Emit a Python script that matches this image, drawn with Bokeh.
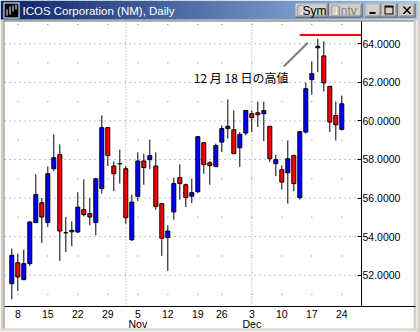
from bokeh.plotting import figure
from bokeh.models import (Range1d, FixedTicker, PrintfTickFormatter, LinearAxis)
from bokeh.core.properties import value
from bokeh.embed import file_html
from bokeh.resources import INLINE

W, H = 420, 332

# ---------------- data ----------------
opens = [51.56, 52.65, 51.77, 52.60, 54.73, 55.76, 54.73, 57.52, 58.25, 54.20,
         54.25, 54.24, 55.40, 55.19, 54.73, 56.49, 59.65, 57.66, 57.78, 57.52,
         53.84, 56.09, 57.92, 57.99, 57.66, 55.71, 53.95, 55.28, 57.06, 56.69,
         56.10, 56.33, 58.87, 57.83, 57.63, 58.90, 59.60, 59.54, 58.61, 59.37,
         60.37, 60.42, 60.37, 59.72, 57.78, 57.47, 57.31, 58.20, 56.02, 59.42,
         62.14, 63.79, 63.37, 61.79, 60.28, 59.56]
highs = [53.38, 53.12, 53.33, 54.80, 57.23, 56.00, 57.64, 59.30, 58.78, 55.02,
         54.79, 56.30, 56.97, 56.00, 57.05, 60.28, 59.65, 57.90, 58.51, 57.66,
         56.18, 58.37, 58.30, 59.03, 58.37, 55.71, 54.59, 57.06, 57.75, 56.75,
         57.00, 59.20, 58.87, 57.92, 58.82, 59.77, 61.11, 60.54, 59.42, 60.56,
         60.54, 61.00, 61.00, 59.72, 58.25, 57.69, 58.99, 58.26, 59.44, 61.98,
         63.08, 64.26, 64.12, 61.79, 61.01, 61.31]
lows = [50.75, 51.18, 51.77, 52.48, 54.70, 53.67, 54.50, 57.40, 52.74, 53.20,
        53.51, 54.20, 55.05, 54.59, 54.07, 56.23, 57.66, 56.36, 56.75, 54.67,
        53.77, 55.84, 56.69, 57.50, 55.40, 53.00, 52.22, 54.88, 55.92, 55.53,
        55.74, 56.26, 57.26, 56.69, 57.60, 58.38, 59.08, 58.28, 57.61, 59.25,
        59.42, 59.68, 58.95, 57.87, 57.14, 56.44, 55.71, 56.36, 55.92, 59.35,
        61.35, 62.53, 61.53, 59.42, 58.99, 59.51]
closes = [53.03, 51.91, 52.60, 54.76, 56.18, 55.02, 57.26, 58.09, 54.29, 54.20,
          54.33, 55.53, 55.14, 55.02, 57.00, 59.65, 58.20, 57.26, 57.78, 54.98,
          55.79, 57.92, 57.58, 58.20, 55.57, 53.91, 54.29, 56.75, 56.75, 56.02,
          56.28, 59.18, 57.73, 57.68, 58.73, 59.60, 59.72, 58.30, 59.30, 60.54,
          60.17, 60.32, 60.53, 58.04, 57.99, 56.83, 58.04, 56.75, 59.44, 61.67,
          62.45, 63.87, 61.97, 59.94, 59.80, 60.89]
bar_index = list(range(len(opens)))

week_tick_index = [1, 6, 11, 16, 21, 26, 31, 35, 40, 45, 50, 55]
week_tick_labels = ["8", "15", "22", "29", "5\nNov", "12", "19", "26",
                    "3\nDec", "10", "17", "24"]
month_start_index = [19, 40]
price_ticks = [52, 54, 56, 58, 60, 62, 64]
odd_levels = [51, 53, 55, 57, 59, 61, 63, 65]

title_text = "ICOS Corporation (NM), Daily"
note_text = "12 月 18 日の高値"
high_level = 64.45
high_line_start = 48
pointer_x = [45.33, 49.33]
pointer_y = [62.82, 64.05]
note_x = 30.33
note_y = 62.23

# visible data window (plot area) and axis extents
X0, X1 = -1.217, 58.283      # bar-index range of the plot area
Y0, Y1 = 50.378, 65.153      # price range of the plot area
XAXIS_END = 67.28            # x axis line runs on under the price labels

# ---------------- figure: the frame is the whole window ----------------
p = figure(width=W, height=H, x_range=Range1d(0, W), y_range=Range1d(H, 0),
           output_backend="svg", toolbar_location=None,
           x_axis_type=None, y_axis_type=None,
           min_border_left=0, min_border_right=0, min_border_top=0,
           min_border_bottom=0, background_fill_color="white",
           border_fill_color="white", outline_line_color=None)
p.grid.visible = False

PX0, PX1, PY0, PY1 = 4.0, 361.0, 21.0, 306.0
ux = (X1 - X0) / (PX1 - PX0)
uy = (Y1 - Y0) / (PY1 - PY0)
p.extra_x_ranges = {"idx": Range1d(X0 - PX0 * ux, X1 + (W - PX1) * ux)}
p.extra_y_ranges = {"price": Range1d(Y0 - (H - PY1) * uy, Y1 + PY0 * uy)}
D = dict(x_range_name="idx", y_range_name="price")

FONT = "Liberation Sans"

xax = LinearAxis(fixed_location=Y0, bounds=(X0, XAXIS_END), **D)
xax.ticker = FixedTicker(ticks=week_tick_index)
xax.major_label_overrides = {t: l for t, l in zip(week_tick_index, week_tick_labels)}
xax.major_tick_in = 0
xax.major_tick_out = 0
xax.minor_tick_in = 0
xax.minor_tick_out = 0
xax.major_label_standoff = 1
xax.major_label_text_font = FONT
xax.major_label_text_font_size = "10.5px"
xax.major_label_text_color = "black"
xax.major_label_text_line_height = 0.85
xax.axis_line_color = "black"
p.add_layout(xax, "below")

yax = LinearAxis(fixed_location=X1, bounds=(Y0, Y1), **D)
yax.ticker = FixedTicker(ticks=price_ticks)
yax.formatter = PrintfTickFormatter(format="%.4f")
yax.major_tick_in = 4
yax.major_tick_out = 0
yax.minor_tick_in = 0
yax.minor_tick_out = 0
yax.major_tick_line_color = "black"
yax.major_label_standoff = 1
yax.major_label_text_font = FONT
yax.major_label_text_font_size = "10.5px"
yax.major_label_text_color = "black"
yax.axis_line_color = "black"
p.add_layout(yax, "right")

# grid
p.segment([X0] * len(price_ticks), price_ticks, [X1] * len(price_ticks), price_ticks,
          line_color="#808080", line_dash="1 4", line_width=1, **D)
gx = [m for lv in odd_levels for m in week_tick_index]
gy = [lv for lv in odd_levels for m in week_tick_index]
p.rect(gx, gy, width=1, height=1, width_units="screen", height_units="screen",
       fill_color="#808080", line_color=None, **D)
p.segment(month_start_index, [Y0] * len(month_start_index), month_start_index,
          [Y1] * len(month_start_index), line_color="#a0a0a0", line_dash="1 2",
          line_width=1, **D)

# candles
tops = [max(o, c) for o, c in zip(opens, closes)]
bots = [min(o, c) for o, c in zip(opens, closes)]
cols = ["#0000ff" if c > o else ("#ff0000" if c < o else "black")
        for o, c in zip(opens, closes)]
p.segment(bar_index, highs, bar_index, lows, line_color="black", line_width=1, **D)
p.vbar(x=bar_index, width=0.667, top=tops, bottom=bots, fill_color=cols,
       line_color="black", line_width=1, **D)

# high-of-Dec-18 annotation
p.segment([high_line_start], [high_level], [X1], [high_level],
          line_color="#ff0000", line_width=2, **D)
p.line(pointer_x, pointer_y, line_color="#7a7a7a", line_width=2, **D)
p.text(x=[note_x], y=[note_y], text=[note_text], text_font=value("Noto Sans CJK JP"),
       text_font_size="12px", text_baseline="middle", text_align="left",
       text_color="black", **D)

# ---------------- window chrome (pixel space) ----------------
boxes = {"l": [], "r": [], "t": [], "b": [], "c": []}

def cbox(x0, y0, x1, y1, color):
    boxes["l"].append(x0); boxes["r"].append(x1)
    boxes["t"].append(y0); boxes["b"].append(y1); boxes["c"].append(color)

GRAY = "#d4d0c8"
cbox(0, 19, 420, 21, GRAY)
cbox(0, 19, 3, 332, GRAY)
cbox(3, 20, 4, 328, "#808080")
cbox(3, 20, 414, 21, "#808080")
cbox(413, 19, 420, 332, GRAY)
cbox(416, 19, 417, 332, "white")
cbox(0, 328, 420, 332, GRAY)
cbox(0, 330, 417, 331, "white")

c0 = (10, 36, 106)
c1 = (166, 202, 240)
n = 70
for k in range(n):
    t = k / (n - 1)
    col = "#%02x%02x%02x" % tuple(int(round(a + (b - a) * t)) for a, b in zip(c0, c1))
    cbox(k * 6, 0, k * 6 + 6.5, 19, col)
cbox(417, 0, 420, 19, GRAY)

cbox(3, 2, 19, 18, "white")
cbox(4, 3, 18, 17, "black")
cbox(6, 9, 7, 15, "white")
cbox(9, 6, 10, 14, "white")
cbox(12, 5, 13, 11, "white")
cbox(15, 4, 16, 9, "white")

def button(x0, y0, x1, y1):
    cbox(x0, y0, x1, y1, "#404040")
    cbox(x0, y0, x1 - 1, y1 - 1, "white")
    cbox(x0 + 1, y0 + 1, x1 - 1, y1 - 1, "#808080")
    cbox(x0 + 1, y0 + 1, x1 - 2, y1 - 2, GRAY)

for bx0, bx1 in [(295, 328), (329, 362), (365, 381), (381, 397), (398, 415)]:
    button(bx0, 3, bx1, 17)
for bx0 in (295, 329):
    cbox(bx0 + 2, 5, bx0 + 8, 14, "#808080")
    cbox(bx0 + 3, 6, bx0 + 8, 14, "white")
    cbox(bx0 + 3, 6, bx0 + 7, 13, GRAY)
cbox(369, 11.5, 375, 13.5, "black")
cbox(384, 5, 393, 14, "black")
cbox(385, 7, 392, 13, GRAY)

p.quad(left=boxes["l"], right=boxes["r"], top=boxes["t"], bottom=boxes["b"],
       fill_color=boxes["c"], line_color=None)
p.patches(xs=[[402, 404, 411, 409], [409, 411, 404, 402]],
          ys=[[6, 6, 13.5, 13.5], [6, 6, 13.5, 13.5]],
          fill_color="black", line_color=None)

p.text(x=[22], y=[10], text=[title_text], text_color="white",
       text_font=value(FONT), text_font_size="11.5px", text_baseline="middle",
       text_align="left")
p.text(x=[302, 337], y=[10, 10], text=["Sym", "Intv"], text_color=["black", "#808080"],
       text_font=value(FONT), text_font_size="12px", text_baseline="middle",
       text_align="left")

open("out.html", "w").write(file_html(p, INLINE))
